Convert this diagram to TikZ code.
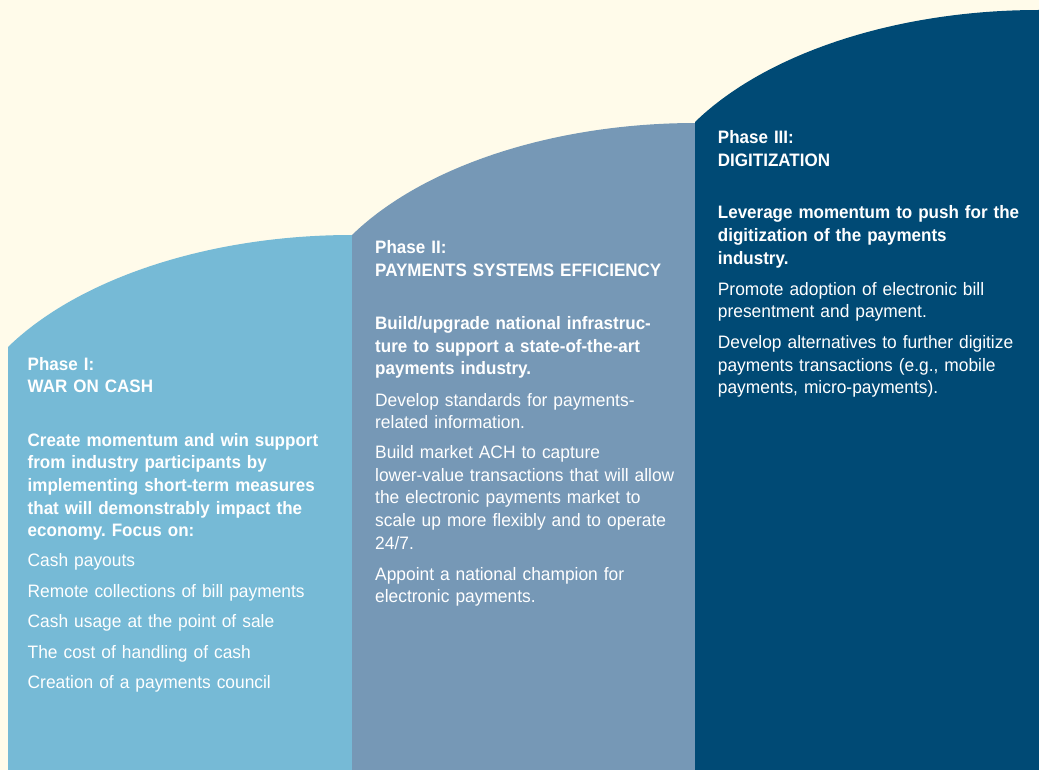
\documentclass[tikz,border=0pt]{standalone}
\usepackage{fontspec}
\setmainfont[FakeStretch=0.965, BoldFeatures={FakeStretch=0.945}]{Liberation Sans}
\definecolor{cream}{HTML}{FFFBEA}
\definecolor{phaseone}{HTML}{76BAD6}
\definecolor{phasetwo}{HTML}{7698B6}
\definecolor{phasethree}{HTML}{004A75}
\frenchspacing
\begin{document}
\begin{tikzpicture}[x=1pt,y=-1pt,
  phasetext/.style={anchor=base west, inner sep=0pt, text width=340pt,
    align=left, text=white, font=\fontsize{18}{22.7}\selectfont},
  itemtext/.style={phasetext, font=\fontsize{18}{30.5}\selectfont}]
\useasboundingbox (0,0) rectangle (1039,770);
\fill[cream] (0,0) rectangle (1039,770);

% three rising panels, each with an elliptical shoulder on its upper left
\fill[phaseone] (8,770) -- (8,347)
  .. controls (79,278) and (210,235) .. (352,235) -- (353,235) -- (353,770) -- cycle;
\fill[phasetwo] (352,770) -- (352,235)
  .. controls (423,166) and (554,123) .. (696,123) -- (696,770) -- cycle;
\fill[phasethree] (695,770) -- (695,122)
  .. controls (766,53) and (897,10) .. (1039,10) -- (1039,770) -- cycle;

% Phase I
\node[phasetext] (p1title) at (27.5,370) {\textbf{Phase I:}\\\textbf{WAR ON CASH}};
\node[phasetext] (p1lead) at (27.5,446) {\bfseries Create momentum and win support\\
  from industry participants by\\ implementing short-term measures\\
  that will demonstrably impact the\\ economy. Focus on:};
\node[itemtext] (p1items) at (27.5,566.7) {Cash payouts\\ Remote collections of bill payments\\
  Cash usage at the point of sale\\ The cost of handling of cash\\ Creation of a payments council};

% Phase II
\node[phasetext] (p2title) at (375,254) {\textbf{Phase II:}\\\textbf{PAYMENTS SYSTEMS EFFICIENCY}};
\node[phasetext] (p2lead) at (375,329.3) {\bfseries Build/upgrade national infrastruc-\\
  ture to support a state-of-the-art\\ payments industry.};
\node[phasetext] (p2a) at (375,406) {Develop standards for payments-\\ related information.};
\node[phasetext] (p2b) at (375,458.3) {Build market ACH to capture\\
  lower-value transactions that will allow\\ the electronic payments market to\\
  scale up more flexibly and to operate\\ 24/7.};
\node[phasetext] (p2c) at (375,580) {Appoint a national champion for\\ electronic payments.};

% Phase III
\node[phasetext] (p3title) at (717.7,144) {\textbf{Phase III:}\\\textbf{DIGITIZATION}};
\node[phasetext] (p3lead) at (717.7,219) {\bfseries Leverage momentum to push for the\\
  digitization of the payments\\ industry.};
\node[phasetext] (p3a) at (717.7,295) {Promote adoption of electronic bill\\ presentment and payment.};
\node[phasetext] (p3b) at (717.7,348.3) {Develop alternatives to further digitize\\
  payments transactions (e.g., mobile\\ payments, micro-payments).};
\end{tikzpicture}
\end{document}
